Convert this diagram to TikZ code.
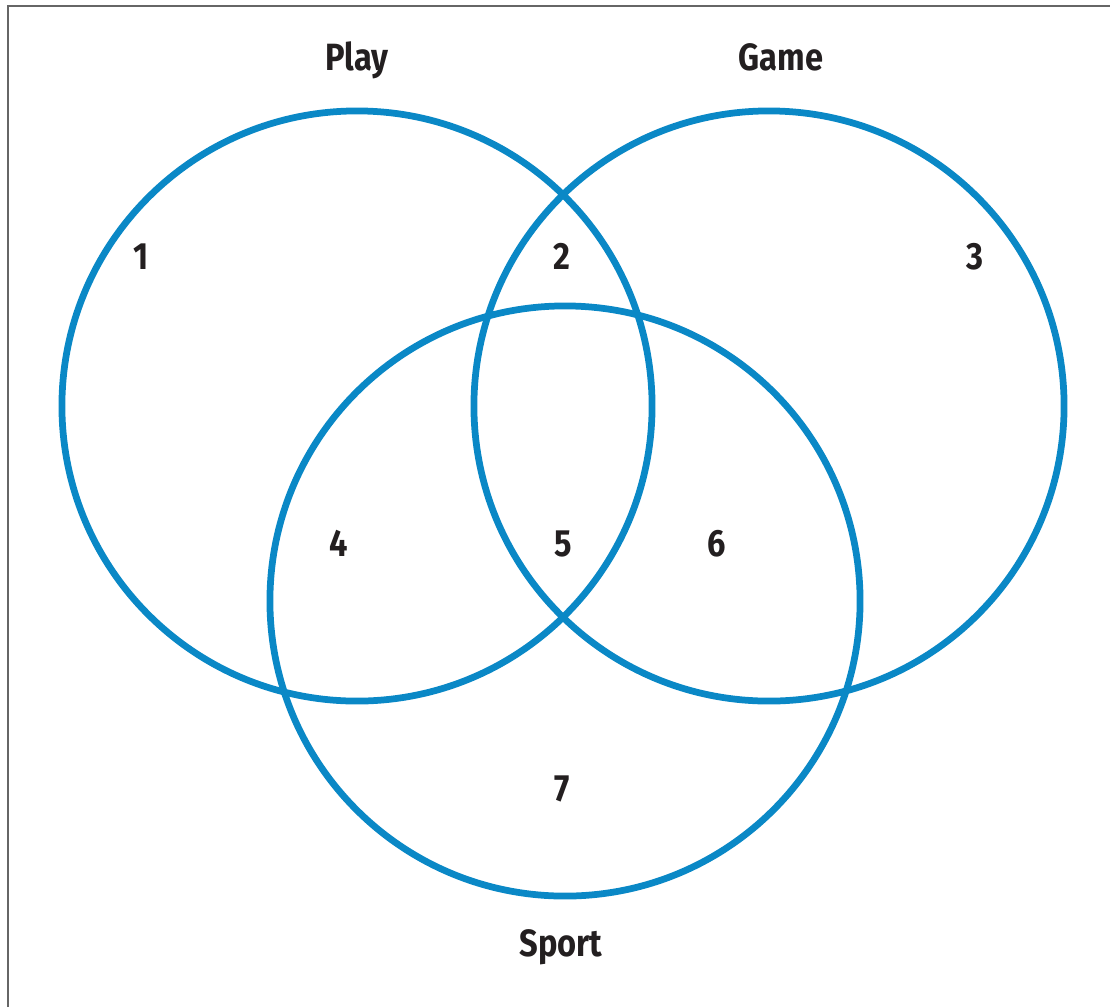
\documentclass[tikz,border=0pt]{standalone}
\usepackage{fontspec}
\setmainfont{Fira Sans}[FakeStretch=0.86]
\usepackage{xcolor}
\usepackage{tikz}
\usetikzlibrary{positioning}
\definecolor{vennBlue}{HTML}{0A88C6}
\definecolor{vennText}{HTML}{231F20}
\definecolor{frameGray}{HTML}{666666}
\begin{document}
\begin{tikzpicture}[x=0.025cm, y=-0.025cm, setc/.style={draw=vennBlue, line width=4.8pt, circle, inner sep=0pt, minimum size=14.75cm}, setlbl/.style={font=\fontsize{27}{32}\selectfont\bfseries, color=vennText, anchor=base}, regionlbl/.style={font=\fontsize{27}{32}\selectfont\bfseries, color=vennText, anchor=base}]
\useasboundingbox (0,0) rectangle (1110,1007);
\draw[frameGray, line width=1.5pt] (8,1007) -- (8,6) -- (1110,6);
% the three sets
\node[setc] (play) at (357,406) {};
\node[setc] (game) at (769,406) {};
\node[setc] (sport) at (565,601) {};
\node[setlbl] (playlbl) at (357,70) {Play};
\node[setlbl] (gamelbl) at (781,70) {Game};
\node[setlbl] (sportlbl) at (561,956) {Sport};
% region numbers
\node[regionlbl] (r1) at (141,269) {1}; \node[regionlbl] (r2) at (562,269) {2}; \node[regionlbl] (r3) at (975,269) {3};
\node[regionlbl] (r4) at (339,556) {4}; \node[regionlbl] (r5) at (563,556) {5}; \node[regionlbl] (r6) at (717,556) {6};
\node[regionlbl] (r7) at (562,801) {7};
\end{tikzpicture}
\end{document}
